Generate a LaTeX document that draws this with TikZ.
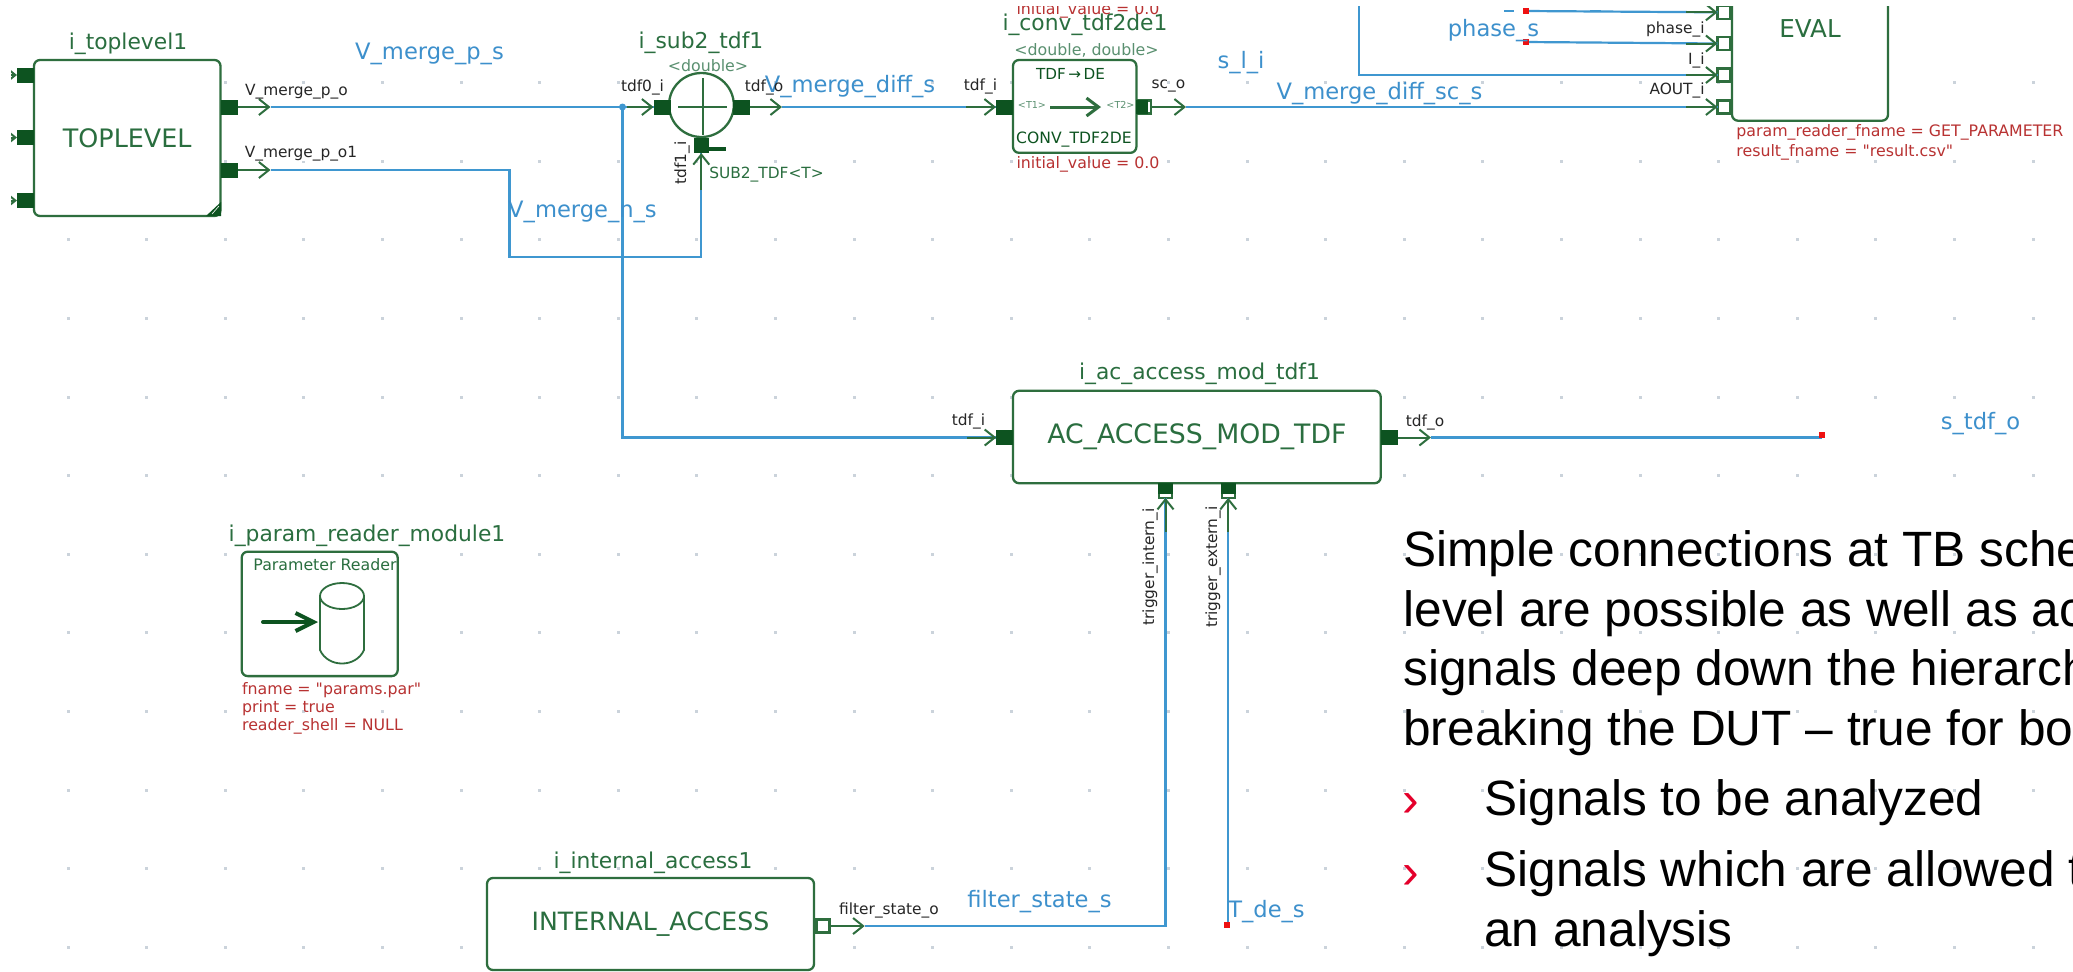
\documentclass[tikz,border=0pt]{standalone}
\usepackage{fontspec}
\setmainfont{DejaVu Sans}
\newfontfamily\plainf{DejaVu Sans}
\newfontfamily\arialf{Liberation Sans}
\usetikzlibrary{arrows.meta,shapes.geometric}
\definecolor{boxg}{HTML}{2E6E3E}
\definecolor{portg}{HTML}{0D5320}
\definecolor{textg}{HTML}{2A6E3F}
\definecolor{lightg}{HTML}{5A9070}
\definecolor{wireb}{HTML}{3F97D0}
\definecolor{textb}{HTML}{3D90CC}
\definecolor{redt}{HTML}{B83232}
\definecolor{redd}{HTML}{EE1111}
\definecolor{dotc}{HTML}{CBD3DB}
\definecolor{bulletc}{HTML}{E4002B}
\newcommand{\fs}[1]{\fontsize{#1}{#1}\selectfont}
\tikzset{
  x=.5pt,y=-.5pt,
  blockbox/.style={draw=boxg,line width=1.15pt,fill=white,rounded corners=3pt,inner sep=0pt,outer sep=0pt,text=textg},
  portfill/.style={fill=portg,inner sep=0pt,outer sep=0pt,minimum width=8.5pt,minimum height=7.5pt},
  portopen/.style={draw=boxg,line width=1.1pt,fill=white,inner sep=0pt,outer sep=0pt,minimum width=6.5pt,minimum height=6.5pt},
  wire/.style={draw=wireb,line width=1.1pt},
  stub/.style={draw=boxg,line width=1pt,-{Straight Barb[length=5pt,width=8pt,line width=1pt]}},
  inst/.style={text=textg,font=\fs{10.9},inner sep=0pt},
  netl/.style={text=textb,font=\fs{11.3},inner sep=0pt},
  portl/.style={text=black!85,font=\fs{7.7},inner sep=0pt},
  parl/.style={text=redt,font=\plainf\fs{7.9},inner sep=0pt},
  tmpl/.style={text=lightg,font=\fs{7.9},inner sep=0pt},
  main/.style={text=black,font=\arialf\fs{24.8},inner sep=0pt,anchor=base west},
  bull/.style={text=bulletc,font=\arialf\fs{25},inner sep=0pt,anchor=base west},
  redmark/.style={fill=redd,inner sep=0pt,minimum size=2.8pt},
}
\begin{document}
\begin{tikzpicture}
\useasboundingbox[fill=white] (0,0) rectangle (2073,971);
% grid
\foreach \i in {0,...,25}\foreach \j in {0,...,11}
  \fill[dotc] ({68+78.6*\i-1.5},{82.7+78.6*\j-1.5}) rectangle ++(3,3);
\begin{scope}
\clip (11,6) rectangle (2073,971);
% blocks
\node[blockbox,minimum width=93.25pt,minimum height=78pt,font=\fs{12.7}] (top) at (127.25,138) {TOPLEVEL};
\fill[portg] (206,216) -- (221,216) -- (221,202) -- cycle;
\draw[white,line width=.3pt] (212,214) -- (219,206);
\node[ellipse,draw=boxg,line width=1.15pt,fill=white,inner sep=0pt,outer sep=0pt,minimum width=32.4pt,minimum height=32pt] (sub) at (701.4,105) {};
\draw[boxg,line width=1pt] (678,107) -- (727,107);
\draw[boxg,line width=1pt] (702.5,78) -- (702.5,135);
\node[blockbox,minimum width=61.7pt,minimum height=46.4pt] (conv) at (1074.7,106.4) {};
\node[blockbox,minimum width=78pt,minimum height=91.7pt,font=\fs{12.3}] (eval) at (1810,29) {EVAL};
\node[blockbox,minimum width=183.85pt,minimum height=46.2pt,font=\fs{13.35}] (ac) at (1196.85,437) {AC\_ACCESS\_MOD\_TDF};
\node[blockbox,minimum width=78pt,minimum height=62.2pt] (par) at (319.7,613.9) {};
\node[blockbox,minimum width=163.5pt,minimum height=46pt,font=\fs{12.6}] (int) at (650.5,924) {INTERNAL\_ACCESS};
% ports
\node[portfill] (tl1) at (25.5,75) {};
\node[portfill] (tl2) at (25.5,137.5) {};
\node[portfill] (tl3) at (25.5,200.5) {};
\node[portfill] (to1) at (229,107) {};
\node[portfill] (to2) at (229,170) {};
\node[portfill] (subi) at (662,107) {};
\node[portfill] (subo) at (741,107) {};
\node[portfill,minimum width=7.7pt] (subb) at (701.3,145.5) {};
\fill[portg] (709,147) rectangle (726,151);
\node[portfill] (convi) at (1004.5,107) {};
\node[portopen,minimum width=7pt] (convo) at (1144.2,107) {};
\fill[portg] (1136,100) rectangle (1148,114);
\node[portfill] (aci) at (1004.8,437.5) {};
\node[portfill] (aco) at (1389,437.5) {};
\node[portopen,minimum height=6.8pt] (actr) at (1165.5,491) {};
\node[portopen,minimum height=6.8pt] (acte) at (1228.3,491) {};
\fill[portg] (1158,483) rectangle (1173,494);
\fill[portg] (1221,483) rectangle (1236,494);
\node[portopen] (ev1) at (1724,12.3) {};
\node[portopen] (ev2) at (1724,43.5) {};
\node[portopen] (ev3) at (1724,75) {};
\node[portopen] (ev4) at (1724,107) {};
\node[portopen] (into) at (823,926) {};
% coordinates of wires
\coordinate (a1) at (270.5,107);
\coordinate (jn) at (622.5,107);
\coordinate (jd) at (622.5,437.5);
\coordinate (s1) at (627,107);
\coordinate (a2) at (270.5,170);
\coordinate (b1) at (509.4,170);
\coordinate (b2) at (509.4,256.7);
\coordinate (b3) at (701.3,256.7);
\coordinate (s2) at (701.3,190);
\coordinate (a3) at (782,107);
\coordinate (s3) at (966,107);
\coordinate (a4) at (1186,107);
\coordinate (s4) at (1686,107);
\coordinate (s5) at (967,437.5);
\coordinate (a5) at (1431,437.5);
\coordinate (s6) at (1165.5,532);
\coordinate (s7) at (1228.3,532);
\coordinate (a6) at (864.7,926);
\coordinate (c1) at (1165.5,926);
\coordinate (c2) at (1228.3,926);
\coordinate (d1) at (1358.7,-5);
\coordinate (d2) at (1358.7,75);
\coordinate (e1) at (1686,12.3);
\coordinate (e2) at (1686,43.5);
\coordinate (e3) at (1686,75);
% blue wires
\draw[wire] (a1) -- (jn) -- (subi.west);
\draw[wire] (jn) -- (jd) -- (aci.west);
\draw[wire] (a2) -- (b1) -- (b2) -- (b3) -- (subb.south);
\draw[wire] (a3) -- (convi.west);
\draw[wire] (a4) -- (ev4.west);
\draw[wire] (a5) -- (1822,437.5) node[redmark,anchor=center,yshift=1.2pt] (r1) {};
\draw[wire] (a6) -- (c1) -- (actr.south);
\draw[wire] (c2) -- (acte.south);
\draw[wire] (d1) -- (d2) -- (ev3.west);
\node[redmark] (r2) at (1526,11) {};
\node[redmark] (r3) at (1526,42) {};
\node[redmark] (r4) at (1227,925) {};
\draw[wire] (r2) -- (ev1.west);
\draw[wire] (r3) -- (ev2.west);
\fill[wireb] (1504,9.5) rectangle (1514,11.5);
\fill[wireb] (1590,9.5) rectangle (1601,11.5);
% junction
\fill[wireb] (jn) circle (3.5);
% green stubs
\draw[stub] (to1.east) -- (a1);
\draw[stub] (to2.east) -- (a2);
\draw[stub] (s1) -- (subi.west);
\draw[stub] (subo.east) -- (a3);
\draw[stub] (s2) -- (subb.south);
\draw[stub] (s3) -- (convi.west);
\draw[stub] (convo.east) -- (a4);
\draw[stub] (s5) -- (aci.west);
\draw[stub] (aco.east) -- (a5);
\draw[stub] (s6) -- (actr.south);
\draw[stub] (s7) -- (acte.south);
\draw[stub] (s4) -- (ev4.west);
\draw[stub] (e1) -- (ev1.west);
\draw[stub] (e2) -- (ev2.west);
\draw[stub] (e3) -- (ev3.west);
\draw[stub] (into.east) -- (a6);
\draw[stub] (0,75) -- (tl1.west);
\draw[stub] (0,137.5) -- (tl2.west);
\draw[stub] (0,200.5) -- (tl3.west);
% conv contents
\node[text=portg,font=\fs{7.8},inner sep=0pt] (convn) at (1074,140) {CONV\_TDF2DE};
\node[text=portg,font=\fs{7.6},inner sep=0pt] (convt) at (1070.5,74) {TDF\,→\,DE};
\node[text=lightg,font=\fs{4.8},inner sep=0pt] (t1) at (1032,105) {<T1>};
\node[text=lightg,font=\fs{4.8},inner sep=0pt] (t2) at (1120.5,105) {<T2>};
\draw[boxg,line width=1.5pt,-{Straight Barb[length=6pt,width=9pt,line width=1.5pt]}] (t1.east)++(4,2) -- (1101,107);
% param contents
\node[text=textg,font=\fs{7.9},inner sep=0pt] (parn) at (325,565) {Parameter Reader};
\draw[boxg,line width=.9pt] (342,596) ellipse [x radius=22, y radius=13];
\draw[boxg,line width=.9pt] (320,596) -- (320,650) .. controls (328,668) and (356,668) .. (364,650) -- (364,596);
\draw[portg,line width=2pt,line cap=round,-{Straight Barb[length=9pt,width=9pt,line width=2pt]}] (263,622) -- (318,622);
% labels
\node[inst] (ln1) at (128,44) {i\_toplevel1};
\node[inst] (ln2) at (701,43) {i\_sub2\_tdf1};
\node[inst] (ln3) at (1085,25) {i\_conv\_tdf2de1};
\node[inst] (ln4) at (1199.5,374) {i\_ac\_access\_mod\_tdf1};
\node[inst] (ln5) at (367,536) {i\_param\_reader\_module1};
\node[inst] (ln6) at (653,863) {i\_internal\_access1};
\node[tmpl] (tp1) at (708,65.7) {<double>};
\node[tmpl] (tp2) at (1086.5,50) {<double, double>};
\node[text=textg,font=\fs{7.7},inner sep=0pt] (tp3) at (766.5,175) {SUB2\_TDF<T>};
\node[netl] (nb1) at (429.5,54) {V\_merge\_p\_s};
\node[netl] (nb2) at (582.5,211.7) {V\_merge\_n\_s};
\node[netl] (nb3) at (850,87) {V\_merge\_diff\_s};
\node[netl] (nb4) at (1241,63) {s\_l\_i};
\node[netl] (nb5) at (1379.5,94) {V\_merge\_diff\_sc\_s};
\node[netl] (nb6) at (1493.5,30.7) {phase\_s};
\node[netl] (nb7) at (1980.5,424) {s\_tdf\_o};
\node[netl] (nb8) at (1039.5,902) {filter\_state\_s};
\node[netl] (nb9) at (1266.5,911.7) {T\_de\_s};
\node[portl] (p1) at (296.5,92) {V\_merge\_p\_o};
\node[portl,fill=white] (p2) at (301,154) {V\_merge\_p\_o1};
\node[portl] (p3) at (642.5,87) {tdf0\_i};
\node[portl] (p4) at (764,87) {tdf\_o};
\node[portl,rotate=90] (p5) at (682,163) {tdf1\_i};
\node[portl] (p6) at (980.5,86) {tdf\_i};
\node[portl] (p7) at (1168.5,86) {sc\_o};
\node[portl,anchor=east] (p8) at (1705,29) {phase\_i};
\node[portl,anchor=east] (p9) at (1705,60) {I\_i};
\node[portl,anchor=east] (p10) at (1705,90.7) {AOUT\_i};
\node[portl] (p11) at (968.5,421.7) {tdf\_i};
\node[portl] (p12) at (1425,422) {tdf\_o};
\node[portl,rotate=90] (p13) at (1150,567) {trigger\_intern\_i};
\node[portl,rotate=90] (p14) at (1213,567) {trigger\_extern\_i};
\node[portl] (p15) at (889,910.7) {filter\_state\_o};
\node[parl] (v1) at (1088,10.7) {initial\_value = 0.0};
\node[parl] (v2) at (1088,164) {initial\_value = 0.0};
\node[parl,anchor=west] (v3) at (1736,132.7) {param\_reader\_fname = GET\_PARAMETER};
\node[parl,anchor=west] (v4) at (1736,152.7) {result\_fname = "result.csv"};
\node[parl,anchor=west] (v5) at (241.7,690) {fname = "params.par"};
\node[parl,anchor=west] (v6) at (241.7,707.7) {print = true};
\node[parl,anchor=west] (v7) at (241.7,726.7) {reader\_shell = NULL};
\end{scope}
% slide text
\node[main] (m1) at (1403,566) {Simple connections at TB sche};
\node[main] (m2) at (1403,626) {level are possible as well as ac};
\node[main] (m3) at (1403,685) {signals deep down the hierarch};
\node[main] (m4) at (1403,745) {breaking the DUT – true for bo};
\node[bull] (b5) at (1402,816) {›};
\node[main] (m5) at (1484,815) {Signals to be analyzed};
\node[bull] (b6) at (1402,888) {›};
\node[main] (m6) at (1484,886) {Signals which are allowed t};
\node[main] (m7) at (1484,946.5) {an analysis};
\end{tikzpicture}
\end{document}
